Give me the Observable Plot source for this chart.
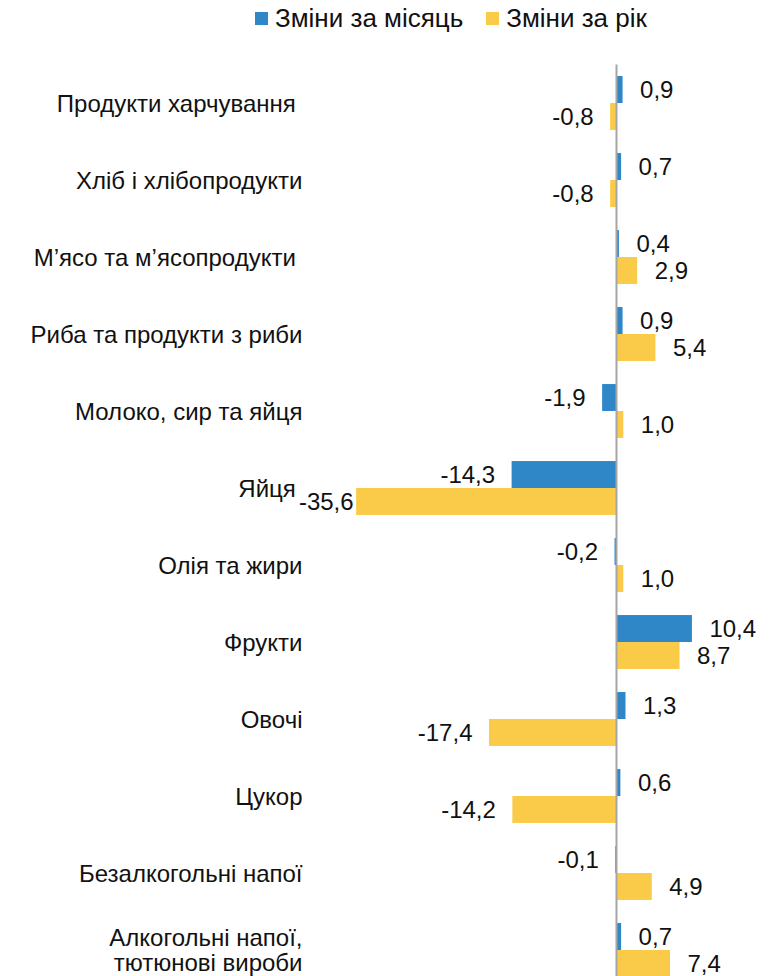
<!DOCTYPE html>
<html>
<head>
<meta charset="utf-8">
<script src="https://cdn.jsdelivr.net/npm/d3@7"></script>
<script src="https://cdn.jsdelivr.net/npm/@observablehq/plot@0.6"></script>
<style>
  html, body { margin: 0; padding: 0; overflow: hidden; background: #fff; }
  body { width: 783px; height: 976px; position: relative; font-family: "Liberation Sans", Arial, sans-serif; }
  #legend { position: absolute; left: 255px; top: 3px; display: flex; align-items: center; font-size: 26px; color: #111; white-space: nowrap; }
  #legend .sw { display: inline-block; width: 13px; height: 13px; margin-right: 7px; }
  #legend .item { display: flex; align-items: center; margin-right: 23px; }
  #chart { position: absolute; left: 0; top: 0; }
</style>
</head>
<body>
<div id="chart"></div>
<div id="legend"></div>
<script>
const categories = [
  "Продукти харчування\u00a0",
  "Хліб і хлібопродукти",
  "М’ясо та м’ясопродукти\u00a0",
  "Риба та продукти з риби",
  "Молоко, сир та яйця",
  "Яйця\u00a0",
  "Олія та жири",
  "Фрукти",
  "Овочі",
  "Цукор",
  "Безалкогольні напої",
  "Алкогольні напої,\nтютюнові вироби"
];
const monthly = [0.9, 0.7, 0.4, 0.9, -1.9, -14.3, -0.2, 10.4, 1.3, 0.6, -0.1, 0.7];
const yearly = [-0.8, -0.8, 2.9, 5.4, 1.0, -35.6, 1.0, 8.7, -17.4, -14.2, 4.9, 7.4];
const seriesNames = ["Зміни за місяць", "Зміни за рік"];
const colors = ["#2F87C8", "#FACB48"];

const rows = categories.map((c, i) => ({category: c, month: monthly[i], year: yearly[i]}));
const fmt = v => v.toFixed(1).replace(".", ",");
const half = 26.95;
const labelFont = 24;

const plot = Plot.plot({
  width: 783,
  height: 990,
  marginTop: 64.5,
  marginBottom: 1.5,
  marginLeft: 324,
  marginRight: 21,
  style: {fontFamily: "'Liberation Sans', Arial, sans-serif", color: "#111", background: "#fff"},
  x: {domain: [-40, 20], axis: null},
  y: {domain: categories, paddingInner: 0.3, paddingOuter: 0.15, round: false, axis: null},
  marks: [
    Plot.barX(rows, {y: "category", x: "month", fill: colors[0], insetBottom: half}),
    Plot.barX(rows, {y: "category", x: "year", fill: colors[1], insetTop: half}),
    Plot.ruleX([0], {stroke: "#A6A6A6", strokeWidth: 2}),
    Plot.text(rows.filter(d => d.month >= 0), {y: "category", x: "month", text: d => fmt(d.month), dy: -13.5, dx: 17, textAnchor: "start", fontSize: labelFont, fill: "#111"}),
    Plot.text(rows.filter(d => d.month < 0), {y: "category", x: "month", text: d => fmt(d.month), dy: -13.5, dx: -17, textAnchor: "end", fontSize: labelFont, fill: "#111"}),
    Plot.text(rows.filter(d => d.year >= 0), {y: "category", x: "year", text: d => fmt(d.year), dy: 13.5, dx: 17, textAnchor: "start", fontSize: labelFont, fill: "#111"}),
    Plot.text(rows.filter(d => d.year < 0 && d.year > -30), {y: "category", x: "year", text: d => fmt(d.year), dy: 13.5, dx: -17, textAnchor: "end", fontSize: labelFont, fill: "#111"}),
    Plot.text(rows.filter(d => d.year <= -30), {y: "category", x: "year", text: d => fmt(d.year), dy: 13.5, dx: -3, textAnchor: "end", fontSize: labelFont, fill: "#111"}),
    Plot.axisY({tickSize: 0, tickPadding: 22, fontSize: 24, lineHeight: 1.05, fill: "#111", label: null})
  ]
});
document.getElementById("chart").appendChild(plot);

const legend = document.getElementById("legend");
seriesNames.forEach((name, i) => {
  const item = document.createElement("span");
  item.className = "item";
  const sw = document.createElement("span");
  sw.className = "sw";
  sw.style.background = colors[i];
  const t = document.createElement("span");
  t.textContent = name;
  item.appendChild(sw);
  item.appendChild(t);
  legend.appendChild(item);
});
</script>
</body>
</html>
